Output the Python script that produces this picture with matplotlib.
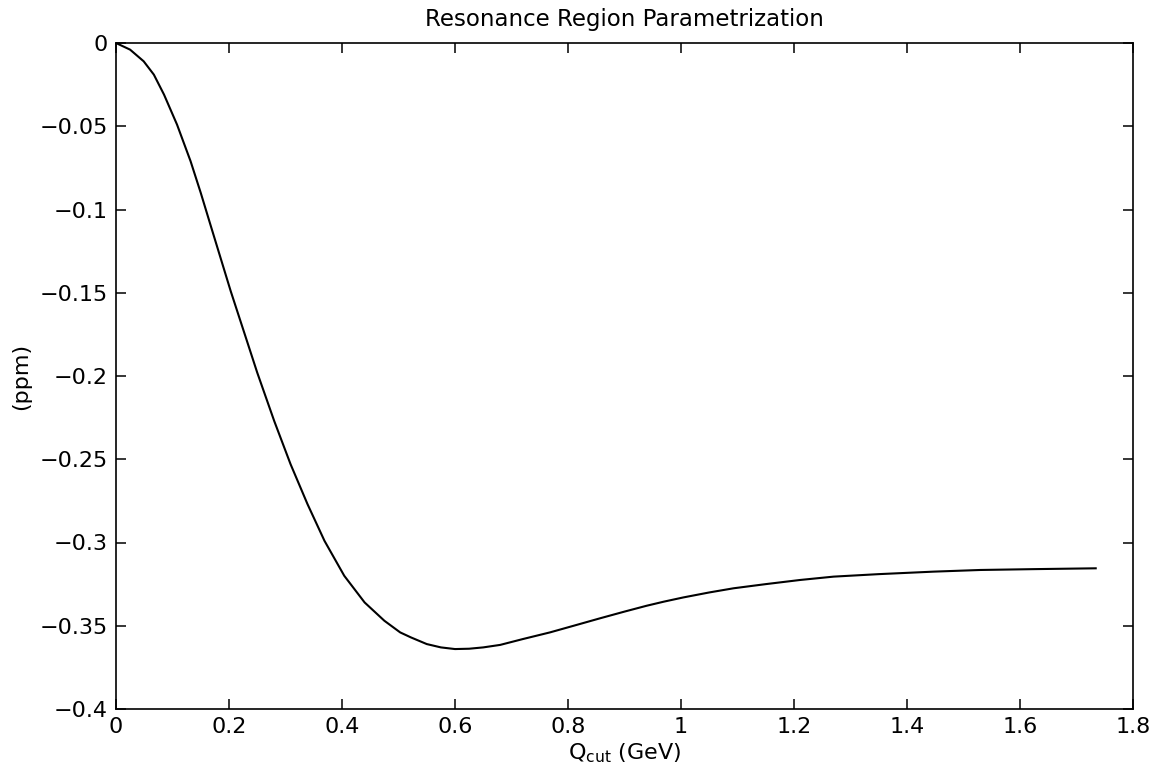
import matplotlib
matplotlib.use("Agg")
import matplotlib.pyplot as plt

# Curve (Q_cut in GeV, value in ppm)
q_cut = [0.000, 0.025, 0.049, 0.067, 0.085, 0.108, 0.132, 0.150, 0.167,
         0.185, 0.203, 0.227, 0.250, 0.280, 0.309, 0.339, 0.369, 0.404,
         0.440, 0.475, 0.503, 0.522, 0.550, 0.575, 0.600, 0.625, 0.650,
         0.680, 0.720, 0.768, 0.810, 0.857, 0.900, 0.939, 0.970, 1.004,
         1.050, 1.093, 1.150, 1.211, 1.270, 1.350, 1.447, 1.530, 1.624,
         1.734]
ppm = [0.000, -0.004, -0.011, -0.019, -0.031, -0.049, -0.071, -0.090, -0.109,
       -0.129, -0.149, -0.174, -0.198, -0.227, -0.253, -0.277, -0.299, -0.320,
       -0.336, -0.347, -0.354, -0.357, -0.361, -0.363, -0.364, -0.3638, -0.363,
       -0.3615, -0.358, -0.354, -0.350, -0.3455, -0.3415, -0.338, -0.3355, -0.333,
       -0.330, -0.3275, -0.325, -0.3225, -0.3205, -0.319, -0.3175, -0.3165, -0.316,
       -0.3155]

x_ticks = [0, 0.2, 0.4, 0.6, 0.8, 1.0, 1.2, 1.4, 1.6, 1.8]
x_labels = ["0", "0.2", "0.4", "0.6", "0.8", "1", "1.2", "1.4", "1.6", "1.8"]
y_ticks = [-0.4, -0.35, -0.3, -0.25, -0.2, -0.15, -0.1, -0.05, 0]
y_labels = ["\u22120.4", "\u22120.35", "\u22120.3", "\u22120.25", "\u22120.2",
            "\u22120.15", "\u22120.1", "\u22120.05", "0"]

plt.rcParams["font.family"] = ["DejaVu Sans"]
plt.rcParams["mathtext.default"] = "regular"

fig = plt.figure(figsize=(11.57, 7.72), dpi=100)
ax = fig.add_axes([116 / 1157, 1 - 709 / 772, (1133 - 116) / 1157, (709 - 43) / 772])

ax.plot(q_cut, ppm, color="black", linewidth=1.5)

ax.set_xlim(0, 1.8)
ax.set_ylim(-0.4, 0)
ax.set_xticks(x_ticks)
ax.set_xticklabels(x_labels)
ax.set_yticks(y_ticks)
ax.set_yticklabels(y_labels)
ax.tick_params(direction="in", length=7, width=1.1, labelsize=16,
               top=True, right=True, pad=6)
for s in ax.spines.values():
    s.set_linewidth(1.2)

ax.set_title("Resonance Region Parametrization", fontsize=16.5, pad=12)
ax.set_xlabel(r"Q$_{cut}$ (GeV)", fontsize=16, labelpad=3)
ax.set_ylabel("(ppm)", fontsize=16, labelpad=6)

fig.savefig("out.png", dpi=100)
